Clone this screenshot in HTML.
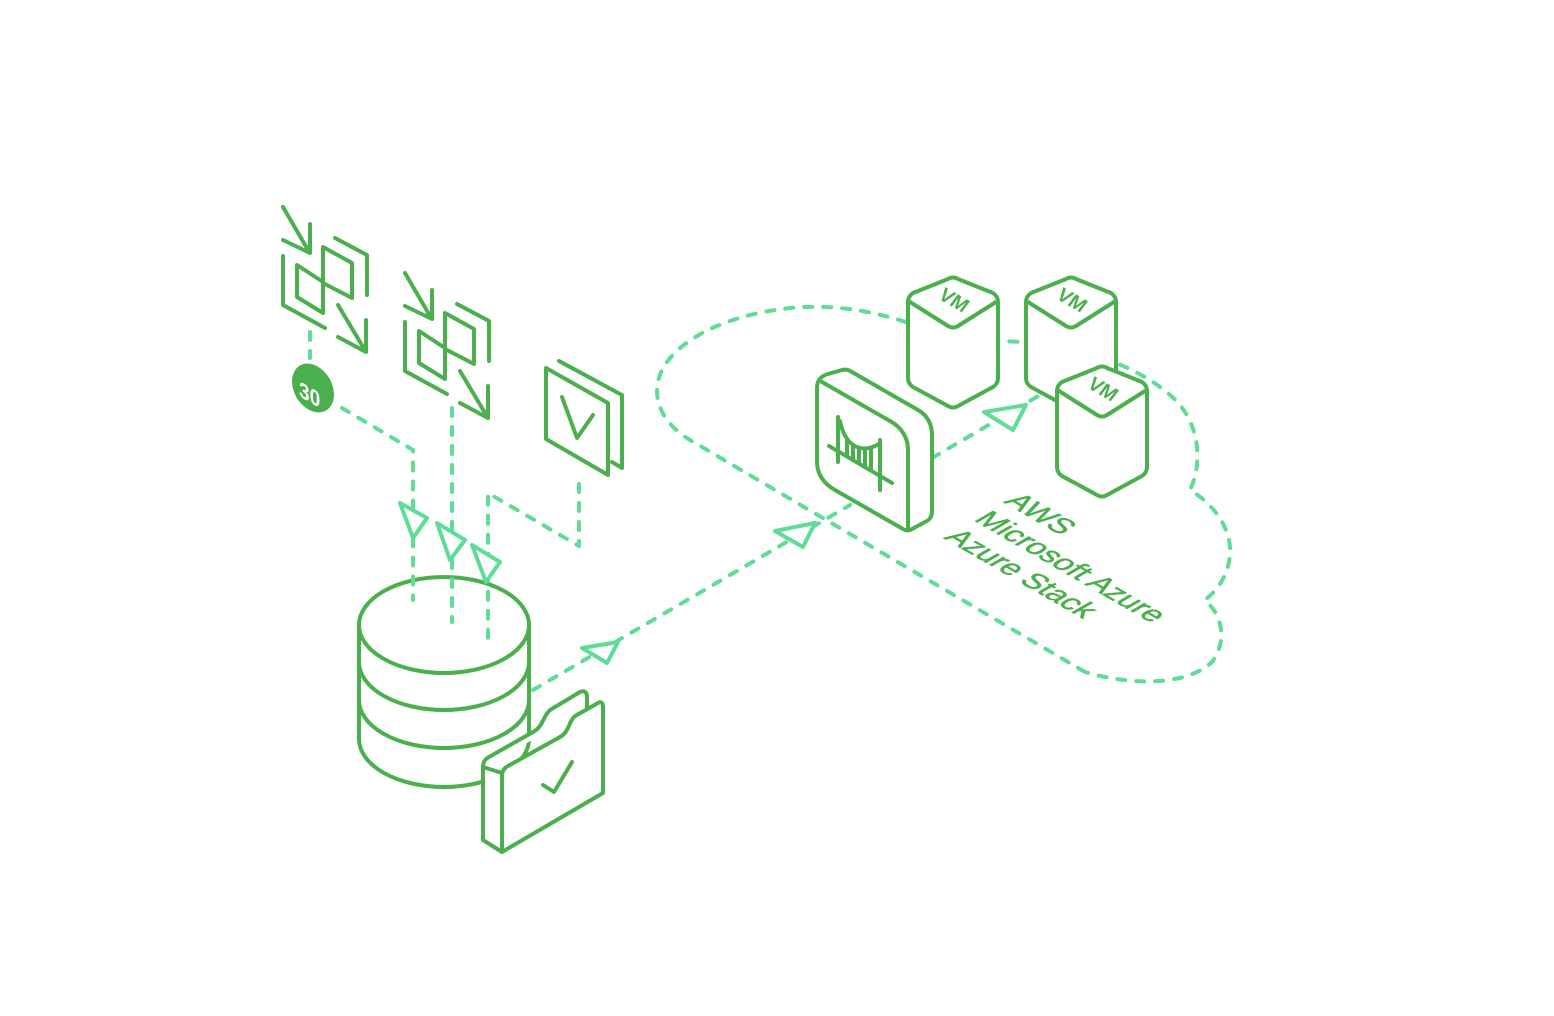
<!DOCTYPE html>
<html><head><meta charset="utf-8"><style>
html,body{margin:0;padding:0;background:#fff;}
svg{display:block;}
</style></head><body>
<svg width="1554" height="1016" viewBox="0 0 1554 1016" xmlns="http://www.w3.org/2000/svg">
<defs>
<style>
.s{fill:none;stroke:#4caf4d;stroke-width:4;stroke-linecap:round;stroke-linejoin:round;}
.sw{fill:#fff;stroke:#4caf4d;stroke-width:4;stroke-linecap:round;stroke-linejoin:round;}
.d{fill:none;stroke:#5edc98;stroke-width:4;stroke-linecap:round;stroke-linejoin:round;stroke-dasharray:8 11;}
.t{fill:#fff;stroke:#5edc98;stroke-width:4;stroke-linejoin:round;}
</style>
</defs>

<!-- cloud -->
<path class="d" d="M1085,672 L690,440 C660,422 650,395 662,370 C680,335 740,310 805,307 C860,305 900,320 930,330 C960,338 1000,342 1030,342 C1080,345 1150,370 1180,405 C1200,430 1202,465 1190,490 C1215,505 1232,530 1230,555 C1228,578 1215,592 1205,600 C1222,615 1228,640 1212,662 C1190,683 1140,688 1085,672"/>

<!-- icon1 -->
<g id="ic1" class="s">
<path d="M283,207 L308,250 M310,224 L310,253 L283,240"/>
<path d="M283,256 L283,305 L325,328"/>
<path d="M323,247 L352,263 L352,298 L323,283 Z"/>
<path d="M297,265 L323,282 L323,313 L297,297 Z"/>
<path d="M335,238 L367,255 L367,295"/>
<path d="M338,305 L366,352 M338,337 L366,352 L366,320"/>
</g>
<use href="#ic1" transform="translate(122,66)"/>

<!-- checkmark doc -->
<path class="s" d="M559,361 L622,395 L622,468 L612,462"/>
<path class="sw" d="M546,368 L608,403 L608,475 L546,439 Z"/>
<path class="s" d="M562,397 L577,438 L593,415"/>

<!-- db to cloud -->
<path class="d" d="M533,690 L850,505"/>
<path class="t" d="M582,648 L618,642 L607,663 Z"/>
<path class="t" d="M775,531 L815,523 L803,547 Z"/>

<!-- database -->
<path class="sw" d="M359,625 L359,739 A85,48 0 0 0 529,739 L529,625"/>
<path class="s" d="M359,662 A85,48 0 0 0 529,662 M359,700 A85,48 0 0 0 529,700"/>
<ellipse class="sw" cx="444" cy="625" rx="85" ry="48"/>

<!-- connectors left (over db) -->
<path class="d" d="M310,332 L310,358"/>
<ellipse cx="313" cy="388" rx="19" ry="26" transform="rotate(-30 313 388)" fill="#4caf4d"/>
<text transform="matrix(0.866,0.5,0,1,299,396)" font-family="Liberation Sans, sans-serif" font-weight="bold" font-size="22" fill="#fff">30</text>
<path class="d" d="M342,408 L413,450 L413,600"/>
<path class="d" d="M452,408 L452,622"/>
<path class="d" d="M579,484 L579,546 L488,493 L488,642"/>
<path class="t" d="M400,503 L427,518 L413,538 Z"/>
<path class="t" d="M437,523 L465,540 L450,560 Z"/>
<path class="t" d="M472,545 L500,562 L486,582 Z"/>

<!-- folder -->
<path class="sw" d="M483,767 L483,840 L502,852 L502,773 Z"/>
<path class="sw" d="M483,767 C483,762 485,759 489,757 L533,732 C543,727 543,716 550,710 L580,692 C584,690 587,692 587,697 L587,710"/>
<path class="sw" d="M502,776 C502,771 504,768 508,766 L560,737 C570,731 568,722 575,716 L598,703 C601,701 603,703 603,707 L603,793 L502,852 Z"/>
<path class="s" d="M543,785 L554,792 L572,762"/>

<!-- gateway -> VM -->
<path class="d" d="M932,458 L1057,385"/>
<path class="t" d="M984,412 L1026,405 L1013,430 Z"/>

<!-- gateway -->
<path class="sw" d="M817,388 C817,380 821,376 828,374 L842,370 C846,369 849,370 852,372 L918,410 C927,415 932,424 932,435 L932,512 C932,516 930,519 927,521 L912,529 C909,531 906,531 903,529 L835,490 C824,484 817,474 817,462 Z"/>
<path class="s" d="M822,382 L890,421 C901,427 908,437 908,450 L908,528"/>
<!-- bridge -->
<g class="s" stroke-width="3.5">
<path d="M838,417 L838,462 M880,440 L880,490 M829,446 L892,483"/>
<path d="M840,421 C844,442 858,456 879,444"/>
<path d="M847,441 L847,456 M853,447 L853,460 M859,450 L859,463 M865,451 L865,467 M871,449 L871,470"/>
</g>

<!-- VMs -->
<g id="vm">
<path class="sw" d="M908,302 L908,378 C908,382 910,385 913,387 L948,406 C951,408 955,408 958,406 L993,387 C996,385 998,382 998,378 L998,302 C998,298 996,295 993,293 L958,279 C955,277 951,277 948,279 L913,293 C910,295 908,298 908,302 Z"/>
<path class="s" d="M910,302 L948,326 C951,328 955,328 958,326 L996,302"/>
<text transform="matrix(0.866,0.5,-0.6,0.8,937,298)" font-family="Liberation Sans, sans-serif" font-weight="bold" font-size="20" fill="#4caf4d">VM</text>
</g>
<use href="#vm" transform="translate(118,0)"/>
<use href="#vm" transform="translate(149,89)"/>

<!-- labels -->
<g font-family="Liberation Sans, sans-serif" font-size="30" fill="#4caf4d" stroke="#4caf4d" stroke-width="0.6">
<text transform="matrix(0.866,0.5,-0.866,0.5,1003,502)">AWS</text>
<text transform="matrix(0.866,0.5,-0.866,0.5,973,520)">Microsoft Azure</text>
<text transform="matrix(0.866,0.5,-0.866,0.5,943,538)">Azure Stack</text>
</g>
</svg>
</body></html>
